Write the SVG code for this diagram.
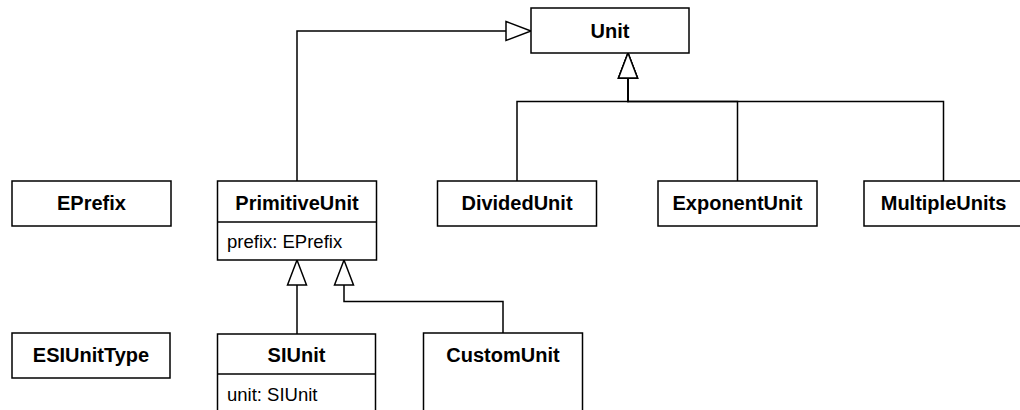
<svg xmlns="http://www.w3.org/2000/svg" width="1020" height="410" viewBox="0 0 1020 410">
  <style>
    .box { fill: #ffffff; stroke: #000000; stroke-width: 1.5; }
    .sep { stroke: #000000; stroke-width: 1.5; }
    .name { font-family: "Liberation Sans", Arial, sans-serif; font-size: 20px; font-weight: bold; text-anchor: middle; fill: #000000; }
    .attr { font-family: "Liberation Sans", Arial, sans-serif; font-size: 18.5px; fill: #000000; }
    .edge { fill: none; stroke: #000000; stroke-width: 1.5; marker-end: url(#generalization); }
  </style>
  <defs>
    <!-- hollow triangle for UML generalization -->
    <marker id="generalization" markerUnits="userSpaceOnUse" markerWidth="30" markerHeight="24" refX="26" refY="11" orient="auto">
      <path d="M1,1.5 L26,11 L1,20.5 Z" fill="#ffffff" stroke="#000000" stroke-width="1.5"/>
    </marker>
  </defs>

  <rect width="1020" height="410" fill="#ffffff"/>

  <g id="connectors">
    <path class="edge" d="M297,181 V31 H531"/>
    <path class="edge" d="M517,181 V101.5 H628 V53"/>
    <path class="edge" d="M737.5,181 V101.5 H628 V53"/>
    <path class="edge" d="M943.5,181 V101.5 H628 V53"/>
    <path class="edge" d="M297,334 V260"/>
    <path class="edge" d="M503,333 V301.5 H344 V260"/>
  </g>

  <g id="Unit">
    <rect class="box" x="531" y="8" width="158" height="45"/>
    <text class="name" x="610" y="38">Unit</text>
  </g>

  <g id="EPrefix">
    <rect class="box" x="12" y="181" width="159" height="45"/>
    <text class="name" x="91.5" y="210">EPrefix</text>
  </g>

  <g id="PrimitiveUnit">
    <rect class="box" x="217.5" y="181" width="159" height="79"/>
    <line class="sep" x1="217.5" y1="222" x2="376.5" y2="222"/>
    <text class="name" x="297" y="210">PrimitiveUnit</text>
    <text class="attr" x="227" y="248">prefix: EPrefix</text>
  </g>

  <g id="DividedUnit">
    <rect class="box" x="437.5" y="181" width="159" height="45"/>
    <text class="name" x="517" y="210">DividedUnit</text>
  </g>

  <g id="ExponentUnit">
    <rect class="box" x="658" y="181" width="159" height="45"/>
    <text class="name" x="737.5" y="210">ExponentUnit</text>
  </g>

  <g id="MultipleUnits">
    <rect class="box" x="864" y="181" width="159" height="45"/>
    <text class="name" x="943.5" y="210">MultipleUnits</text>
  </g>

  <g id="ESIUnitType">
    <rect class="box" x="12" y="333" width="158" height="45"/>
    <text class="name" x="91" y="362">ESIUnitType</text>
  </g>

  <g id="SIUnit">
    <rect class="box" x="217.5" y="334" width="158" height="90"/>
    <line class="sep" x1="217.5" y1="374" x2="375.5" y2="374"/>
    <text class="name" x="296.5" y="362">SIUnit</text>
    <text class="attr" x="227" y="401">unit: SIUnit</text>
  </g>

  <g id="CustomUnit">
    <rect class="box" x="423.5" y="333" width="159" height="90"/>
    <text class="name" x="503" y="362">CustomUnit</text>
  </g>
</svg>
